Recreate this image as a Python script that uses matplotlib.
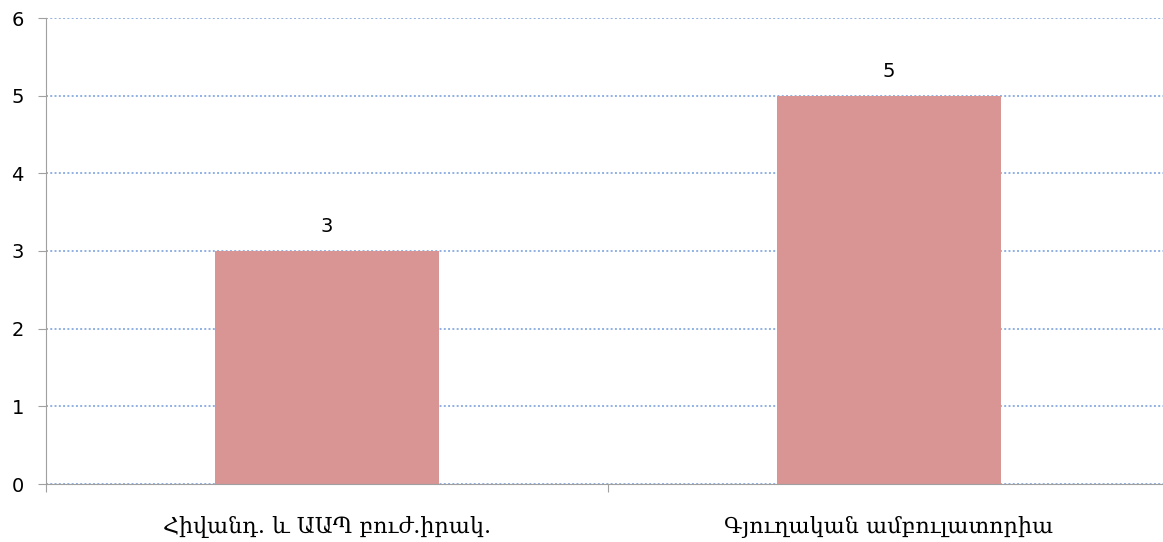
import matplotlib
matplotlib.use('Agg')
import matplotlib.pyplot as plt

categories = ['Հիվանդ. և ԱԱՊ բուժ.իրակ.', 'Գյուղական ամբուլատորիա']
values = [3, 5]
yticks = [0, 1, 2, 3, 4, 5, 6]

plt.rcParams['font.family'] = ['DejaVu Sans']

fig = plt.figure(figsize=(11.63, 5.42), dpi=100)
# axes runs a bit past the right edge, as in the reference
ax = fig.add_axes([46 / 1163, 58 / 542, 1124 / 1163, 466 / 542])

x = list(range(len(categories)))
ax.bar(x, values, width=0.4, color='#d99594', zorder=3)
for xi, v in zip(x, values):
    ax.text(xi, v + 0.245, str(v), ha='center', va='baseline', fontsize=14, color='#000000')

ax.set_xlim(-0.5, len(categories) - 0.5)
ax.set_ylim(0, 6)
ax.set_yticks(yticks)
ax.set_yticklabels([str(t) for t in yticks], fontsize=14)
ax.yaxis.grid(True, linestyle=(0, (1, 1.2)), color='#8fb0e3', linewidth=1.4, zorder=0)

# category labels between boundary ticks
ax.set_xticks([i - 0.5 for i in range(len(categories) + 1)])
ax.set_xticklabels([])
for xi, lab in zip(x, categories):
    ax.text(xi, -0.41, lab, ha='center', va='top', fontsize=16,
            family='DejaVu Serif', transform=ax.transData)

for s in ['top', 'right']:
    ax.spines[s].set_visible(False)
for s in ['left', 'bottom']:
    ax.spines[s].set_color('#a0a0a0')
ax.spines['bottom'].set_zorder(4)
ax.tick_params(axis='both', color='#a0a0a0', length=6, direction='out')
ax.tick_params(axis='y', pad=10)

plt.savefig('out.png', dpi=100)
